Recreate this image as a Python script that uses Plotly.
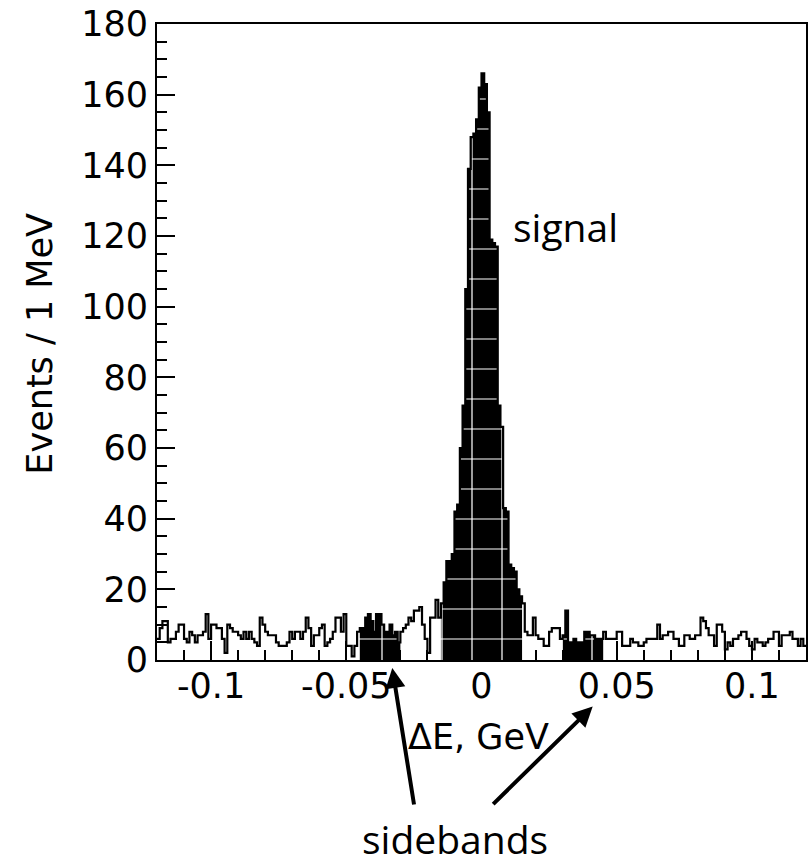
import plotly.graph_objects as go

# Delta-E spectrum: 1 MeV bins from -0.120 to +0.120 GeV
bin_lo = -0.120
bin_width = 0.001
counts = [
    6, 9, 11, 11, 5, 6, 6, 8, 10, 10,
    6, 5, 8, 7, 5, 7, 7, 8, 13, 6,
    10, 10, 9, 9, 6, 2, 10, 9, 8, 8,
    7, 6, 8, 6, 8, 6, 5, 4, 12, 10,
    8, 7, 7, 7, 5, 4, 4, 4, 5, 8,
    6, 8, 8, 6, 8, 12, 9, 4, 7, 7,
    9, 10, 4, 5, 6, 8, 12, 12, 8, 13,
    4, 4, 1, 4, 8, 9, 9, 12, 13, 11,
    8, 13, 13, 10, 8, 8, 10, 7, 8, 5,
    8, 9, 10, 12, 11, 14, 14, 15, 10, 6,
    2, 12, 12, 17, 12,
    16, 22, 28, 28, 30, 42, 44, 60, 72, 105,
    139, 148, 149, 153, 162, 166, 163, 155, 119, 118,
    117, 72, 66, 43, 42, 27, 26, 25, 20, 18,
    16, 8, 7, 7, 12, 7, 6, 6, 4, 4,
    8, 9, 9, 9, 6, 7, 14, 5, 5, 6,
    5, 5, 5, 8, 8, 7, 7, 6, 6, 6,
    8, 6, 6, 6, 6, 8, 8, 4, 4, 4,
    6, 5, 5, 4, 4, 5, 6, 6, 6, 6,
    10, 6, 7, 7, 8, 8, 6, 6, 4, 4,
    7, 7, 6, 6, 7, 7, 12, 11, 9, 7,
    7, 4, 10, 10, 8, 3, 5, 4, 6, 6,
    7, 8, 8, 6, 4, 3, 6, 5, 5, 4,
    5, 6, 6, 8, 8, 4, 7, 7, 7, 8,
    6, 6, 4, 6, 4,
]

# Selection windows (GeV)
signal_window = (-0.015, 0.015)
sideband_low = (-0.045, -0.030)
sideband_high = (0.030, 0.045)

x_tick_vals = [-0.1, -0.05, 0.0, 0.05, 0.1]
x_tick_text = ["-0.1", "-0.05", "0", "0.05", "0.1"]
y_tick_vals = [0, 20, 40, 60, 80, 100, 120, 140, 160, 180]

n_bins = len(counts)
edges = [round(bin_lo + bin_width * i, 6) for i in range(n_bins + 1)]

TICK_FONT = dict(family="DejaVu Sans", size=35, color="black")
NOTE_FONT = dict(family="Open Sans", size=39, color="black")


def window_trace(lo, hi):
    idx = [i for i in range(n_bins)
           if edges[i] >= lo - 1e-9 and edges[i + 1] <= hi + 1e-9]
    xs = [edges[i] for i in idx] + [edges[idx[-1] + 1]]
    ys = [counts[i] for i in idx] + [counts[idx[-1]]]
    return go.Scatter(
        x=xs, y=ys, mode="lines",
        line=dict(shape="hv", width=0, color="black"),
        fill="tozeroy", fillcolor="black",
        fillpattern=dict(shape="+", fgcolor="white", bgcolor="black",
                         size=30, solidity=0.08, fillmode="replace"),
        hoverinfo="skip", showlegend=False,
    )


fig = go.Figure()
for lo, hi in (sideband_low, signal_window, sideband_high):
    fig.add_trace(window_trace(lo, hi))

# full histogram outline
fig.add_trace(go.Scatter(
    x=edges, y=counts + [counts[-1]], mode="lines",
    line=dict(shape="hv", width=2.2, color="black"),
    showlegend=False,
))

fig.update_xaxes(
    range=[edges[0], edges[-1]],
    tickmode="array", tickvals=x_tick_vals, ticktext=x_tick_text,
    ticks="inside", ticklen=19, tickwidth=1.5, tickcolor="black",
    minor=dict(tickmode="linear", tick0=0, dtick=0.01, ticks="inside",
               ticklen=10, tickwidth=1.5, tickcolor="black"),
    showline=True, mirror=True, linewidth=2, linecolor="black",
    showgrid=False, zeroline=False, tickfont=TICK_FONT,
    ticklabelstandoff=-6, ticklabeloverflow="allow",
)
fig.update_yaxes(
    range=[0, 180],
    tickmode="array", tickvals=y_tick_vals,
    ticks="inside", ticklen=18, tickwidth=1.5, tickcolor="black",
    minor=dict(tickmode="linear", tick0=0, dtick=5, ticks="inside",
               ticklen=10, tickwidth=1.5, tickcolor="black"),
    showline=True, mirror=True, linewidth=2, linecolor="black",
    showgrid=False, zeroline=False, tickfont=TICK_FONT,
    ticklabelstandoff=0, ticklabeloverflow="allow",
)

annotations = [
    dict(text="\u0394E, GeV", xref="paper", yref="paper", x=0.496, y=-0.1215,
         showarrow=False, font=TICK_FONT, xanchor="center", yanchor="middle"),
    dict(text="Events / 1 MeV", xref="paper", yref="paper", x=-0.1797, y=0.498,
         showarrow=False, font=TICK_FONT, textangle=-90,
         xanchor="center", yanchor="middle"),
    dict(text="signal", xref="paper", yref="paper", x=0.6298, y=0.682,
         showarrow=False, font=NOTE_FONT, xanchor="center", yanchor="middle"),
    dict(text="sidebands", xref="paper", yref="paper", x=0.459, y=-0.281,
         showarrow=False, font=NOTE_FONT, xanchor="center", yanchor="middle"),
    dict(text="", xref="paper", yref="paper", x=0.3625, y=-0.0125,
         ax=22, ay=138, showarrow=True, arrowhead=2, arrowsize=1,
         arrowwidth=4, arrowcolor="black"),
    dict(text="", xref="paper", yref="paper", x=0.6713, y=-0.0732,
         ax=-101, ay=99, showarrow=True, arrowhead=2, arrowsize=1,
         arrowwidth=4, arrowcolor="black"),
]

fig.update_layout(
    width=812, height=867,
    margin=dict(l=157, r=4, t=18, b=207),
    paper_bgcolor="white", plot_bgcolor="white",
    annotations=annotations,
    showlegend=False,
)

fig.write_html("out.html")
